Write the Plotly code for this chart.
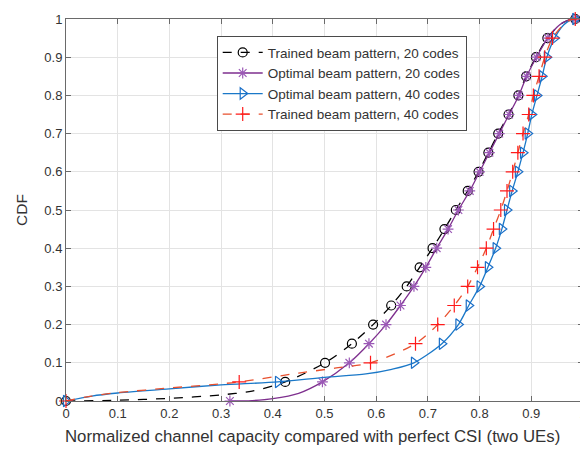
import plotly.graph_objects as go

# CDF levels at which the markers are drawn
CDF_LEVELS = [0, 0.05, 0.1, 0.15, 0.2, 0.25, 0.3, 0.35, 0.4, 0.45, 0.5,
              0.55, 0.6, 0.65, 0.7, 0.75, 0.8, 0.85, 0.9, 0.95, 1.0]

# Normalized capacity at each CDF level (marker positions)
trained20_x = [0, 0.424, 0.501, 0.553, 0.594, 0.629, 0.659, 0.684, 0.709, 0.732, 0.754,
               0.777, 0.798, 0.817, 0.836, 0.856, 0.875, 0.890, 0.909, 0.931, 0.985]
optimal20_x = [0.317, 0.496, 0.548, 0.586, 0.619, 0.647, 0.673, 0.696, 0.717, 0.739, 0.759,
               0.781, 0.800, 0.819, 0.838, 0.857, 0.876, 0.891, 0.910, 0.932, 0.985]
optimal40_x = [0, 0.410, 0.673, 0.727, 0.759, 0.779, 0.800, 0.816, 0.831, 0.843, 0.853,
               0.863, 0.874, 0.884, 0.893, 0.901, 0.911, 0.921, 0.930, 0.945, 0.985]
trained40_x = [0, 0.335, 0.589, 0.676, 0.719, 0.751, 0.777, 0.796, 0.813, 0.827, 0.841,
               0.853, 0.864, 0.874, 0.884, 0.895, 0.904, 0.915, 0.926, 0.941, 0.985]

# Extra curve samples between markers
trained20_extra_x = [0.1, 0.2, 0.3, 0.36, 0.955, 0.972]
trained20_extra_y = [0.002, 0.007, 0.016, 0.026, 0.985, 0.997]
optimal20_extra_x = [0.36, 0.40, 0.45, 0.955, 0.972]
optimal20_extra_y = [0.001, 0.006, 0.02, 0.985, 0.997]
optimal40_extra_x = [0.05, 0.1, 0.2, 0.3, 0.5, 0.58, 0.63, 0.963, 0.976]
optimal40_extra_y = [0.013, 0.021, 0.032, 0.042, 0.062, 0.071, 0.083, 0.985, 0.997]
trained40_extra_x = [0.05, 0.1, 0.2, 0.3, 0.45, 0.52, 0.962, 0.975]
trained40_extra_y = [0.013, 0.022, 0.034, 0.045, 0.073, 0.086, 0.985, 0.997]

LABELS = ["Trained beam pattern, 20 codes", "Optimal beam pattern, 20 codes",
          "Optimal beam pattern, 40 codes", "Trained beam pattern, 40 codes"]

X_TICKS = [0, 0.1, 0.2, 0.3, 0.4, 0.5, 0.6, 0.7, 0.8, 0.9, 1]
X_TICK_TEXT = ["0", "0.1", "0.2", "0.3", "0.4", "0.5", "0.6", "0.7", "0.8", "0.9", "1"]

X_TITLE = "Normalized channel capacity compared with perfect CSI (two UEs)"
Y_TITLE = "CDF"

series = [
    (LABELS[0], trained20_x, trained20_extra_x, trained20_extra_y,
     "#000000", "#000000", "dash", "circle-open", 9),
    (LABELS[1], optimal20_x, optimal20_extra_x, optimal20_extra_y,
     "#7E2F8E", "#9B59B6", "solid", "asterisk-open", 9),
    (LABELS[2], optimal40_x, optimal40_extra_x, optimal40_extra_y,
     "#1A78C8", "#1A6FC8", "solid", "triangle-right-open", 10),
    (LABELS[3], trained40_x, trained40_extra_x, trained40_extra_y,
     "#E8502E", "#FF1A1A", "dash", "cross-thin-open", 10),
]

fig = go.Figure()

for name, mx, ex, ey, lcol, mcol, dash, sym, msize in series:
    pts = sorted(zip(list(mx) + list(ex), list(CDF_LEVELS) + list(ey)), key=lambda p: (p[1], p[0]))
    lx = [p[0] for p in pts]
    ly = [p[1] for p in pts]
    fig.add_trace(go.Scatter(x=lx, y=ly, mode="lines", showlegend=False,
                             line=dict(color=lcol, width=1.3, dash=dash, shape="spline", smoothing=0.8),
                             hoverinfo="skip"))
    fig.add_trace(go.Scatter(x=mx, y=CDF_LEVELS, mode="markers", showlegend=False, cliponaxis=False,
                             marker=dict(symbol=sym, size=msize, color=mcol,
                                         line=dict(color=mcol, width=1.2))))
    fig.add_trace(go.Scatter(x=[None], y=[None], mode="lines+markers", name=name,
                             line=dict(color=lcol, width=1.3, dash=dash),
                             marker=dict(symbol=sym, size=msize, color=mcol,
                                         line=dict(color=mcol, width=1.2))))

axis_common = dict(
    range=[0, 1], showgrid=True, gridcolor="#e3e3e3", gridwidth=1,
    showline=True, linecolor="#6a6a6a", linewidth=1, mirror="ticks",
    ticks="inside", ticklen=5, tickcolor="#6a6a6a",
    tickvals=X_TICKS, ticktext=X_TICK_TEXT, zeroline=False, automargin=False,
    tickfont=dict(family="Liberation Sans, Arial", size=13, color="#333333"),
)

fig.update_layout(
    width=580, height=441,
    margin=dict(l=58, r=5, t=11, b=48),
    paper_bgcolor="white", plot_bgcolor="white",
    font=dict(family="Liberation Sans, Arial", color="#333333"),
    xaxis=dict(axis_common),
    yaxis=dict(axis_common,
               title=dict(text=Y_TITLE, font=dict(size=15.5, color="#333333"), standoff=12)),
    legend=dict(x=0.2915, y=0.955, xanchor="left", yanchor="top",
                bgcolor="white", bordercolor="#4a4a4a", borderwidth=1,
                font=dict(size=13.5, color="#333333"), tracegroupgap=0,
                itemwidth=40),
    showlegend=True,
)

fig.add_annotation(text=X_TITLE, xref="paper", yref="paper", x=0.476, y=-0.094,
                   xanchor="center", yanchor="middle", showarrow=False,
                   font=dict(size=16.8, color="#333333", family="Liberation Sans, Arial"))

fig.write_html("out.html")
